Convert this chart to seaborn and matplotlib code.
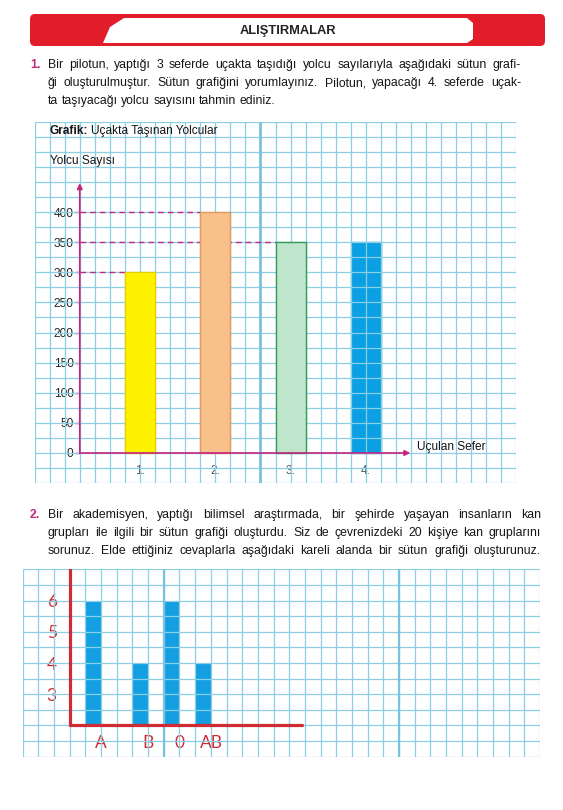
import numpy as np
import seaborn as sns
import matplotlib.pyplot as plt
from matplotlib import font_manager
from matplotlib.patches import FancyBboxPatch, Polygon, Rectangle
from matplotlib.transforms import ScaledTranslation

# ---------------- data ----------------
flight_labels = ["1.", "2.", "3.", "4."]
passengers = [300, 400, 350, 350]
passenger_ticks = [0, 50, 100, 150, 200, 250, 300, 350, 400]

blood_groups = ["A", "B", "0", "AB"]
blood_counts = [6, 4, 6, 4]
count_ticks = [3, 4, 5, 6]

q1_lines = [
    "Bir pilotun, yaptığı 3 seferde uçakta taşıdığı yolcu sayılarıyla aşağıdaki sütun grafi-",
    "ği oluşturulmuştur. Sütun grafiğini yorumlayınız. Pilotun, yapacağı 4. seferde uçak-",
    "ta taşıyacağı yolcu sayısını tahmin ediniz.",
]
q2_lines = [
    "Bir akademisyen, yaptığı bilimsel araştırmada, bir şehirde yaşayan insanların kan",
    "grupları ile ilgili bir sütun grafiği oluşturdu. Siz de çevrenizdeki 20 kişiye kan gruplarını",
    "sorunuz. Elde ettiğiniz cevaplarla aşağıdaki kareli alanda bir sütun grafiği oluşturunuz.",
]

# ---------------- style ----------------
sns.set_style("white")


def has_font(name):
    try:
        font_manager.findfont(name, fallback_to_default=False)
        return True
    except ValueError:
        return False


narrow = has_font("Liberation Sans Narrow")
body_font = ["Liberation Sans Narrow", "DejaVu Sans"] if narrow else ["Liberation Sans", "DejaVu Sans"]
body_size = 10.8 if narrow else 8.8
chart_size = 9.8 if narrow else 8.6
plt.rcParams["font.family"] = body_font

grid_blue = "#8acfe2"
magenta = "#c4257f"
red = "#cf2b35"
text_col = "#151515"
bar_colors = ["#fff200", "#f8c08b", "#bfe5cc", "#0b9fe3"]
bar_edges = ["#e6cf00", "#e39a5c", "#2f9c5a", "#0b9fe3"]

W, H = 563, 810
fig = plt.figure(figsize=(W / 100, H / 100), dpi=100)
page = fig.add_axes([0, 0, 1, 1])
page.set_xlim(0, W)
page.set_ylim(H, 0)
page.axis("off")


def box(x0, y0, x1, y1):
    return [x0 / W, 1 - y1 / H, (x1 - x0) / W, (y1 - y0) / H]


# ---------------- header ----------------
page.add_patch(FancyBboxPatch((30, 14), 515, 32, boxstyle="round,pad=0,rounding_size=5",
                              fc="#e11d2a", ec="none"))
page.add_patch(Polygon([(103, 43), (110, 27), (124, 18), (467, 18), (473, 23), (473, 39), (467, 43)],
                       closed=True, fc="white", ec="none"))
page.text(288, 31, "ALIŞTIRMALAR", ha="center", va="center", fontsize=9.3,
          fontweight="bold", family=["Liberation Sans", "DejaVu Sans"], color="#222222")

renderer = fig.canvas.get_renderer()
probe1 = page.text(100, 100, "a a", fontsize=body_size)
probe2 = page.text(100, 100, "aa", fontsize=body_size)
space_w = probe1.get_window_extent(renderer).width - probe2.get_window_extent(renderer).width
probe1.remove()
probe2.remove()


def put_line(line, x0, x1, y, justify=True):
    words = line.split()
    texts = [page.text(0, y, w, ha="left", va="center", fontsize=body_size, color=text_col)
             for w in words]
    widths = [t.get_window_extent(renderer).width for t in texts]
    gap = (x1 - x0 - sum(widths)) / (len(words) - 1) if justify else space_w
    x = x0
    for t, w in zip(texts, widths):
        t.set_x(x)
        x += w + gap


page.text(30, 65, "1.", ha="left", va="center", fontsize=body_size, fontweight="bold", color=magenta)
for i, line in enumerate(q1_lines):
    put_line(line, 48, 521, 65 + 18 * i, justify=i < 2)

page.text(30, 515, "2.", ha="left", va="center", fontsize=body_size, fontweight="bold", color=magenta)
for i, line in enumerate(q2_lines):
    put_line(line, 48, 541, 515 + 18 * i, justify=True)

# ---------------- chart 1 ----------------
ax1 = fig.add_axes(box(34.6, 121.7, 516.5, 483.1))
ax1.set_facecolor("none")
ax1.vlines(np.arange(-1.4, 5.001, 0.2), -50, 550, color=grid_blue, lw=0.9, zorder=1)
ax1.hlines(np.arange(-50, 551, 25), -1.4, 5.0, color=grid_blue, lw=0.9, zorder=1)
ax1.vlines(1.6, -50, 550, color="#7cc2de", lw=2.0, zorder=1)

sns.barplot(x=flight_labels, y=passengers, hue=flight_labels, palette=bar_colors,
            width=0.4, saturation=1, errorbar=None, legend=False, ax=ax1)
for i, p in enumerate(ax1.patches):
    p.set_edgecolor(bar_edges[i])
    p.set_linewidth(1.0)
    p.set_zorder(0.5 if i == len(ax1.patches) - 1 else 2)

# dashed guides from the y axis to the first three bars
for i, v in enumerate(passengers[:3]):
    ax1.hlines(v, -0.8, i - 0.2, color=magenta, lw=1.0, linestyles=(0, (4, 3)), zorder=1.5)

ax1.annotate("", xy=(-0.8, 448), xytext=(-0.8, 0),
             arrowprops=dict(arrowstyle="-|>", color=magenta, lw=1.2, mutation_scale=8,
                             shrinkA=0, shrinkB=0), zorder=3)
ax1.annotate("", xy=(3.59, 0), xytext=(-0.8, 0),
             arrowprops=dict(arrowstyle="-|>", color=magenta, lw=1.2, mutation_scale=8,
                             shrinkA=0, shrinkB=0), zorder=3)

ax1.set_xlim(-1.4, 5.0)
ax1.set_ylim(-50, 550)
ax1.set_yticks(passenger_ticks)
for s in ax1.spines.values():
    s.set_visible(False)
ax1.spines["left"].set_position(("data", -0.8))
ax1.spines["bottom"].set_position(("data", 0))
ax1.tick_params(axis="y", length=3.5, width=1.0, color=magenta, labelsize=chart_size,
                labelcolor="#222222", pad=1, left=True)
ax1.tick_params(axis="x", length=0, labelsize=chart_size, labelcolor="#555555", pad=9)
ax1.set_xlabel("")
ax1.set_ylabel("")

ax1.text(-1.2, 534, "Grafik:", fontsize=chart_size, fontweight="bold", va="center", ha="left", color=text_col)
ax1.text(-0.65, 534, "Uçakta Taşınan Yolcular", fontsize=chart_size, va="center", ha="left", color=text_col)
ax1.text(-1.2, 485, "Yolcu Sayısı", fontsize=chart_size, va="center", ha="left", color=text_col)
ax1.text(3.68, 10, "Uçulan Sefer", fontsize=chart_size, va="center", ha="left", color=text_col)

# ---------------- chart 2 ----------------
slot_order = ["A", "_1", "_2", "B", "_3", "0", "_4", "AB"]
base = 2

ax2 = fig.add_axes(box(22.7, 569.3, 540.1, 756.7))
ax2.set_facecolor("none")
ax2.vlines(np.arange(-4.5, 28.51, 1), 1, 7, color=grid_blue, lw=0.9, zorder=1)
ax2.hlines(np.arange(1, 7.01, 0.5), -4.5, 28.5, color=grid_blue, lw=0.9, zorder=1)
ax2.vlines([4.5, 19.5], 1, 7, color="#7cc2de", lw=1.6, zorder=1)

sns.barplot(x=blood_groups, y=blood_counts, order=slot_order, color="#139fe2",
            width=1.0, saturation=1, errorbar=None, ax=ax2)
clip = Rectangle((-4.5, base), 33, 7 - base, transform=ax2.transData)
for p in ax2.patches:
    p.set_zorder(0.5)
    p.set_linewidth(0)
    p.set_clip_path(clip)

ax2.set_xlim(-4.5, 28.5)
ax2.set_ylim(1, 7)
ax2.axvline(-1.5, ymin=(base - 1) / 6, ymax=1.0, color=red, lw=2.3, zorder=3)
ax2.axhline(base, xmin=3 / 33, xmax=17.8 / 33, color=red, lw=2.3, zorder=3)

ax2.set_xticks(range(len(slot_order)), labels=[s if s in blood_groups else "" for s in slot_order])
ax2.set_yticks(count_ticks, labels=[str(t) for t in count_ticks])
for s in ax2.spines.values():
    s.set_visible(False)
ax2.tick_params(axis="x", length=0, labelsize=12.5, labelcolor=red, pad=-15.5, bottom=True)
ax2.tick_params(axis="y", length=0, labelsize=12.5, labelcolor=red, pad=-24.5, left=True)
for lab in ax2.get_xticklabels():
    lab.set_family(["Lato", "DejaVu Sans"])
    lab.set_transform(lab.get_transform() + ScaledTranslation(0.08, 0, fig.dpi_scale_trans))
for lab in ax2.get_yticklabels():
    lab.set_family(["Lato", "DejaVu Sans"])
ax2.set_xlabel("")
ax2.set_ylabel("")

fig.savefig("out.png", dpi=100)
